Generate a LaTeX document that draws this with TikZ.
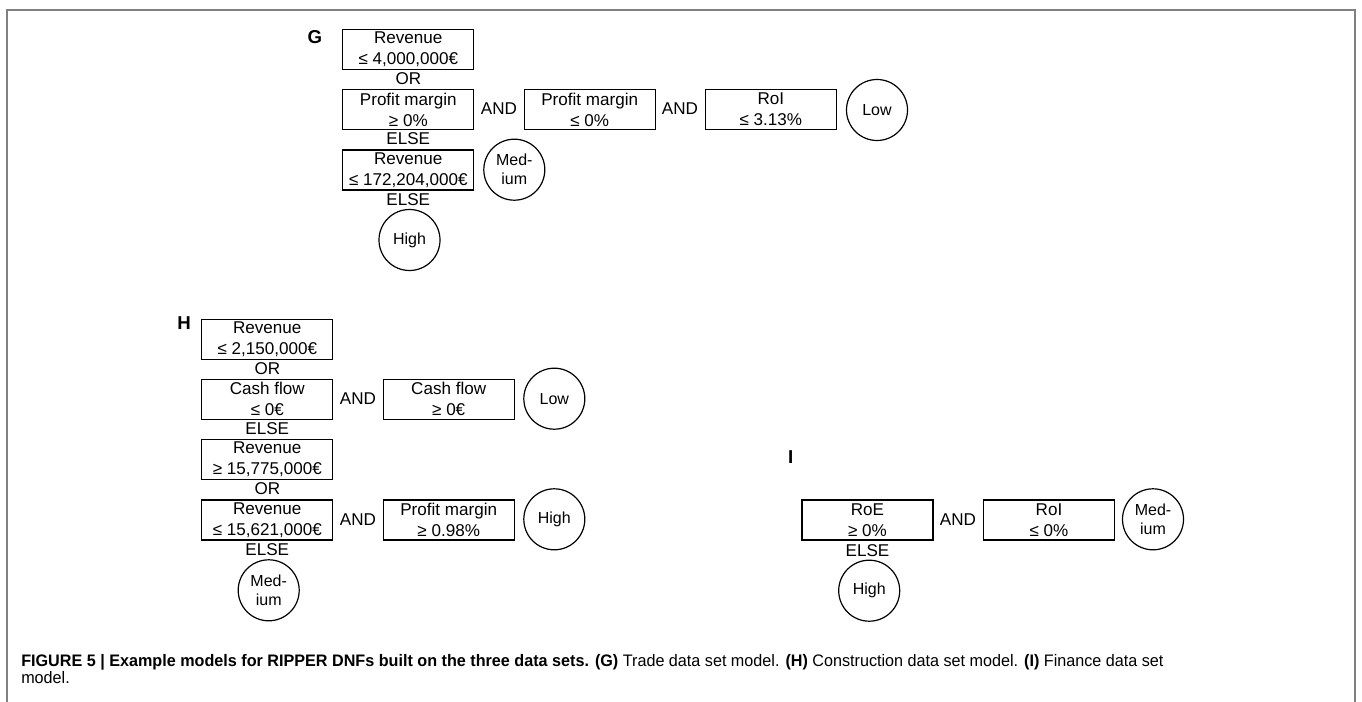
\documentclass[tikz,border=0pt]{standalone}
\usepackage{fontspec}
\setmainfont{Liberation Sans}
\newfontfamily\capfont[FakeStretch=0.97]{Liberation Sans}

\begin{document}
\begin{tikzpicture}[
    x=0.75pt, y=-0.75pt,
    every node/.style={font=\fontsize{12.8}{15.75}\selectfont},
    cond/.style={draw, line width=1pt, minimum width=98.25pt, minimum height=30pt,
        inner sep=0pt, align=center},
    leaf/.style={draw, circle, line width=0.9pt, minimum size=45.75pt, inner sep=0pt,
        align=center, font=\fontsize{12}{14.25}\selectfont},
    word/.style={inner sep=0pt},
    panel/.style={inner sep=0pt, font=\fontsize{14}{16}\selectfont\bfseries},
]
    \useasboundingbox (0,0) rectangle (1362,702);
    \draw[black!50, line width=1.4pt] (7,702) -- (7,10) -- (1355,10) -- (1355,702);

    % G: trade
    \node[panel] (gLabel) at (315,37.3) {G};
    \node[cond] (gRev1) at (408.3,49.2) {Revenue\\≤ 4,000,000€};
    \node[word] (gOr) at (408.3,78.7) {OR};
    \node[cond] (gPm1) at (408.3,109.5) {Profit margin\\≥ 0\%};
    \node[word] (gAnd1) at (499,108.7) {AND};
    \node[cond] (gPm2) at (589.7,109.5) {Profit margin\\≤ 0\%};
    \node[word] (gAnd2) at (680,108.7) {AND};
    \node[cond] (gRoi) at (770.8,109.5) {RoI\\≤ 3.13\%};
    \node[leaf] (gLow) at (877,110) {Low};
    \node[word] (gElse1) at (408.3,138.7) {ELSE};
    \node[cond] (gRev2) at (408.3,170) {Revenue\\≤ 172,204,000€};
    \node[leaf] (gMed) at (514.3,169.7) {Med-\\ium};
    \node[word] (gElse2) at (408.3,199.3) {ELSE};
    \node[leaf] (gHigh) at (409.5,240) {High};

    % H: construction
    \node[panel] (hLabel) at (184,322.7) {H};
    \node[cond] (hRev1) at (267.3,339.2) {Revenue\\≤ 2,150,000€};
    \node[word] (hOr1) at (267.3,368.3) {OR};
    \node[cond] (hCf1) at (267.3,399.3) {Cash flow\\≤ 0€};
    \node[word] (hAnd1) at (358,398.7) {AND};
    \node[cond] (hCf2) at (448.7,399.3) {Cash flow\\≥ 0€};
    \node[leaf] (hLow) at (554.3,398.7) {Low};
    \node[word] (hElse1) at (267.3,428.3) {ELSE};
    \node[cond] (hRev2) at (267.3,459.7) {Revenue\\≥ 15,775,000€};
    \node[word] (hOr2) at (267.3,489) {OR};
    \node[cond] (hRev3) at (267.3,520) {Revenue\\≤ 15,621,000€};
    \node[word] (hAnd2) at (358,519.3) {AND};
    \node[cond] (hPm) at (448.7,520) {Profit margin\\≥ 0.98\%};
    \node[leaf] (hHigh) at (554.3,519.3) {High};
    \node[word] (hElse2) at (267.3,549.3) {ELSE};
    \node[leaf] (hMed) at (268.7,590.3) {Med-\\ium};

    % I: finance
    \node[panel] (iLabel) at (790.7,457.3) {I};
    \node[cond] (iRoe) at (867.5,520) {RoE\\≥ 0\%};
    \node[word] (iAnd) at (958,519.3) {AND};
    \node[cond] (iRoi) at (1049,520) {RoI\\≤ 0\%};
    \node[leaf] (iMed) at (1153,519.3) {Med-\\ium};
    \node[word] (iElse) at (867.5,550.7) {ELSE};
    \node[leaf] (iHigh) at (869.2,590.7) {High};

    % caption
    \node[inner sep=0pt, anchor=north west, align=left,
        font=\capfont\fontsize{12.5}{13}\selectfont] (caption) at (21,654)
        {\textbf{FIGURE 5 | Example models for RIPPER DNFs built on the three data sets. (G)} Trade data set model. \textbf{(H)} Construction data set model. \textbf{(I)} Finance data set\\model.};
\end{tikzpicture}
\end{document}
